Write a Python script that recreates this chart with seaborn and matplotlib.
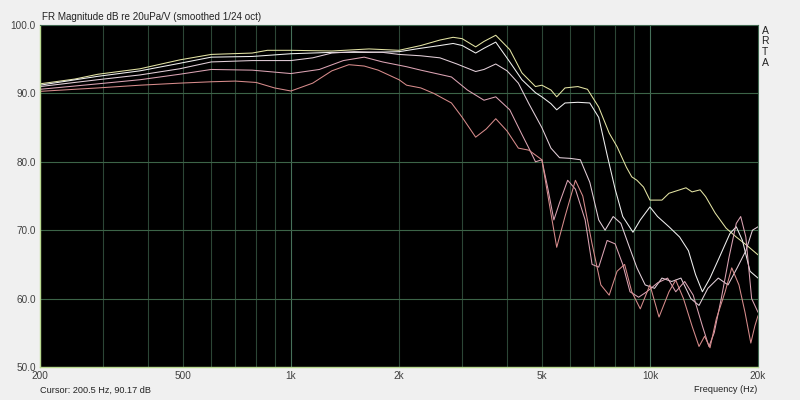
import numpy as np
import pandas as pd
import matplotlib
matplotlib.use("Agg")
import matplotlib.pyplot as plt
import seaborn as sns
from matplotlib.ticker import FixedLocator, NullFormatter

# ---- data ----
freq_a = [200, 250, 290, 380, 490, 600, 780, 860, 1000, 1300, 1650, 2000, 2300, 2600, 2830, 3000, 3270, 3450, 3720,
          4070, 4400, 4800, 5000, 5300, 5500, 5800, 6300, 6700, 7200, 7700, 8100, 8600, 8900, 9200, 9600, 10000,
          10800, 11300, 12100, 12600, 13100, 13800, 14300, 15200, 16300, 17400, 18600, 20000]
db_a = [91.4, 92.1, 92.8, 93.6, 94.9, 95.7, 95.9, 96.3, 96.3, 96.2, 96.5, 96.3, 97.0, 97.8, 98.2, 98.0, 96.8, 97.6, 98.5,
        96.4, 93.0, 91.0, 91.2, 90.5, 89.5, 90.8, 91.0, 90.6, 88.0, 84.2, 82.2, 79.2, 77.8, 77.3, 76.3, 74.4,
        74.4, 75.4, 75.9, 76.2, 75.6, 75.9, 74.9, 72.5, 70.3, 69.0, 67.8, 66.4]

freq_b = [200, 290, 380, 490, 600, 780, 1000, 1300, 1650, 2000, 2300, 2600, 2830, 3000, 3270, 3450, 3720, 4070,
          4400, 4800, 5000, 5300, 5500, 5800, 6300, 6800, 7200, 7600, 8000, 8400, 8970, 9400, 10000, 10500,
          11300, 12100, 12800, 13400, 14000, 14700, 15600, 16700, 17400, 18100, 19000, 20000]
db_b = [91.2, 92.5, 93.3, 94.4, 95.3, 95.4, 95.8, 96.0, 96.0, 96.1, 96.6, 97.0, 97.3, 97.0, 95.9, 96.6, 97.5, 94.6,
        92.0, 90.1, 89.5, 88.5, 87.6, 88.6, 88.7, 88.6, 86.5, 81.0, 76.0, 72.0, 69.7, 71.5, 73.4, 72.0,
        70.5, 69.0, 67.0, 63.5, 61.0, 63.0, 66.0, 69.5, 70.5, 68.5, 64.0, 63.0]

freq_c = [200, 290, 380, 490, 600, 780, 1000, 1150, 1300, 1500, 1800, 2000, 2300, 2600, 2900, 3270, 3450, 3720,
          4000, 4300, 4600, 5000, 5300, 5600, 6000, 6400, 6800, 7200, 7500, 7900, 8300, 8700, 9200, 9700, 10300,
          10800, 11500, 12200, 13000, 13700, 14500, 15500, 16500, 17500, 18500, 19300, 20000]
db_c = [91.0, 92.0, 92.7, 93.6, 94.6, 94.8, 94.8, 95.2, 95.9, 96.1, 96.0, 95.7, 95.5, 95.2, 94.3, 93.2, 93.5, 94.3,
        93.3, 91.5, 88.5, 85.0, 82.0, 80.6, 80.5, 80.3, 77.0, 71.5, 70.0, 72.0, 71.0, 68.0, 64.5, 62.0, 61.5,
        63.0, 62.5, 63.0, 60.0, 59.0, 61.5, 63.0, 62.0, 64.5, 67.0, 70.0, 70.5]

freq_d = [200, 290, 380, 490, 600, 780, 1000, 1200, 1400, 1600, 1800, 2100, 2300, 2800, 3100, 3450, 3720, 4070,
          4400, 4600, 4800, 5000, 5200, 5400, 5600, 5900, 6200, 6600, 6900, 7200, 7600, 8000, 8400, 8800, 9300,
          9800, 10500, 11200, 11800, 12500, 13200, 14000, 14600, 15100, 15800, 16600, 17400, 17900, 18500, 19200, 20000]
db_d = [90.6, 91.4, 92.0, 92.8, 93.5, 93.4, 92.9, 93.5, 94.8, 95.3, 94.6, 93.9, 93.4, 92.4, 90.5, 89.0, 89.5, 87.6,
        84.0, 82.0, 80.0, 80.3, 76.0, 71.5, 74.0, 77.3, 76.0, 71.5, 65.0, 64.6, 68.5, 68.0, 65.0, 61.0, 60.2,
        61.0, 62.3, 63.0, 61.0, 62.5, 60.5, 56.0, 53.0, 55.0, 60.0, 66.0, 71.0, 72.0, 69.0, 60.0, 58.0]

freq_e = [200, 290, 380, 490, 600, 700, 800, 900, 1000, 1150, 1300, 1450, 1600, 1750, 2000, 2100, 2300, 2500, 2800,
          3000, 3270, 3500, 3720, 4000, 4300, 4600, 5000, 5200, 5500, 5800, 6200, 6500, 6900, 7300, 7700, 8100,
          8500, 8900, 9400, 10000, 10600, 11300, 11800, 12400, 13100, 13700, 14200, 14700, 15300, 16200, 16900,
          17700, 18400, 19100, 19600, 20000]
db_e = [90.3, 90.8, 91.2, 91.5, 91.7, 91.8, 91.6, 90.8, 90.35, 91.5, 93.3, 94.2, 94.0, 93.4, 92.0, 91.2, 90.8, 90.0, 88.6,
        86.5, 83.6, 84.8, 86.3, 84.5, 82.0, 81.7, 80.3, 75.0, 67.5, 72.0, 77.3, 75.0, 68.0, 62.0, 60.5, 64.0,
        65.0, 61.0, 58.5, 62.0, 57.3, 61.0, 62.7, 60.0, 56.0, 53.0, 54.5, 52.8, 57.0, 61.0, 64.5,
        62.0, 58.0, 53.5, 56.0, 57.5]

series = [
    ("A", freq_a, db_a, "#e4e4a4"),
    ("B", freq_b, db_b, "#f0f0f0"),
    ("C", freq_c, db_c, "#e4d0da"),
    ("D", freq_d, db_d, "#dca4b4"),
    ("E", freq_e, db_e, "#d88c8c"),
]

x_ticks = [200, 500, 1000, 2000, 5000, 10000, 20000]
x_labels = ["200", "500", "1k", "2k", "5k", "10k", "20k"]
y_ticks = [50, 60, 70, 80, 90, 100]
y_labels = ["50.0", "60.0", "70.0", "80.0", "90.0", "100.0"]

# ---- figure ----
sns.set_style("dark")
plt.rcParams["font.family"] = ["Liberation Sans", "DejaVu Sans"]

fig = plt.figure(figsize=(8, 4), dpi=100, facecolor="#f0f0f0")
ax = fig.add_axes([40 / 800, 33 / 400, 718 / 800, 342 / 400])
ax.set_facecolor("black")

for name, f, d, col in series:
    df = pd.DataFrame({"f": f, "db": d})
    sns.lineplot(data=df, x="f", y="db", ax=ax, color=col, linewidth=0.75,
                 estimator=None, sort=False, legend=False)

ax.set_xscale("log")
ax.set_xlim(200, 20000)
ax.set_ylim(50, 100)

minor = [m * 10 ** e for e in (2, 3, 4) for m in range(1, 10) if 200 < m * 10 ** e < 20000]
ax.xaxis.set_major_locator(FixedLocator(x_ticks))
ax.set_xticklabels(x_labels)
ax.xaxis.set_minor_locator(FixedLocator(minor))
ax.xaxis.set_minor_formatter(NullFormatter())
ax.set_yticks(y_ticks)
ax.set_yticklabels(y_labels)

ax.grid(False)
for m in minor:
    ax.axvline(m, color="#2c4636" if m not in (1000, 10000) else "#46705a", lw=0.8, zorder=0)
for yv in (60, 70, 80, 90):
    ax.axhline(yv, color="#3c6448", lw=0.8, zorder=0)

ax.tick_params(axis="both", which="both", length=0, labelsize=7.2, colors="#404040", pad=3)
ax.set_xlabel("")
ax.set_ylabel("")
for s in ("left", "bottom"):
    ax.spines[s].set_color("#b8d890")
    ax.spines[s].set_linewidth(1.0)
for s in ("right", "top"):
    ax.spines[s].set_color("#406850")
    ax.spines[s].set_linewidth(0.8)

fig.text(42 / 800, 1 - 17 / 400, "FR Magnitude dB re 20uPa/V (smoothed 1/24 oct)",
         fontsize=7.1, color="#222222", va="center", ha="left")
fig.text(40 / 800, 1 - 390 / 400, "Cursor: 200.5 Hz, 90.17 dB",
         fontsize=6.6, color="#222222", va="center", ha="left")
fig.text(757 / 800, 1 - 390 / 400, "Frequency (Hz)",
         fontsize=6.6, color="#222222", va="center", ha="right")
for i, ch in enumerate("ARTA"):
    fig.text(765 / 800, 1 - (31 + i * 10.5) / 400, ch, fontsize=7.5, color="#222222",
             va="center", ha="center")

fig.savefig("out.png", dpi=100, facecolor=fig.get_facecolor())
